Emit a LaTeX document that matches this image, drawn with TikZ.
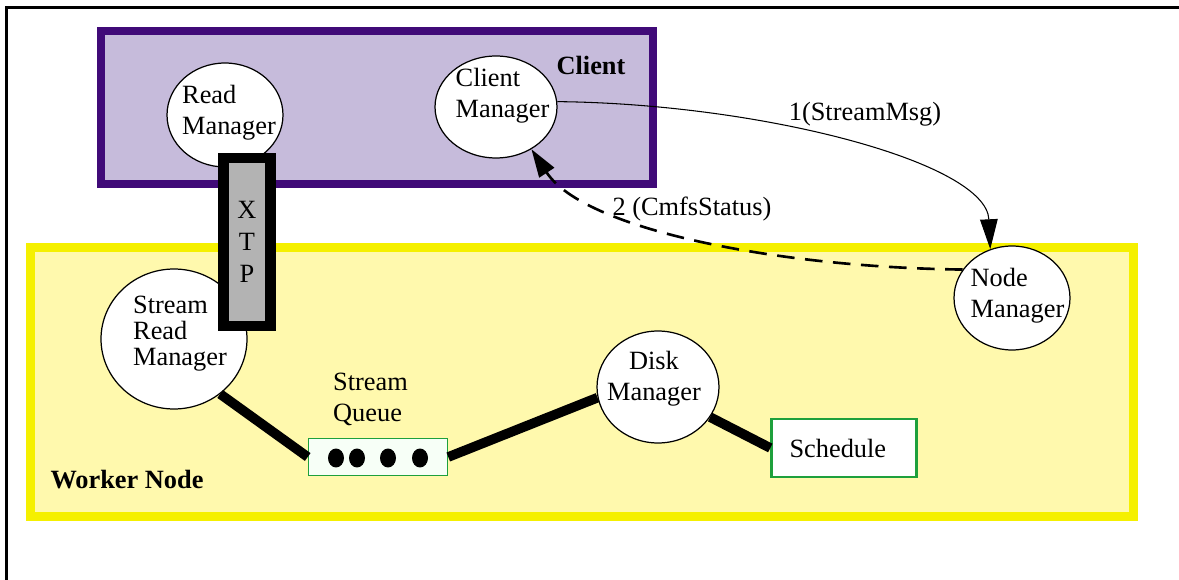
\documentclass[tikz,border=0pt]{standalone}
\usepackage{fontspec}
\setmainfont{Liberation Serif}
\usepackage{tikz}
\usetikzlibrary{shapes.geometric, arrows.meta, positioning}
\definecolor{clientedge}{HTML}{400A78}
\definecolor{clientfill}{HTML}{C6BBDB}
\definecolor{workeredge}{HTML}{F5F000}
\definecolor{workerfill}{HTML}{FFF9AD}
\definecolor{boxgreen}{HTML}{1EA03C}
\definecolor{xtpgray}{HTML}{B3B3B3}

\begin{document}
\fontsize{15}{17.6}\selectfont
\begin{tikzpicture}[x=0.02cm, y=-0.02cm,
  region/.style={rectangle, inner sep=0pt},
  mgr/.style={ellipse, draw, fill=white, line width=0.7pt, inner sep=0pt},
  txt/.style={align=left, inner sep=0pt},
  link/.style={line width=5.5pt},
  msg/.style={-{Triangle[length=17pt, width=10pt]}, line width=0.6pt},
  reply/.style={-{Triangle[length=16pt, width=10pt]}, line width=1.5pt,
                dash pattern=on 10pt off 6pt},
]
  \useasboundingbox (0,0) rectangle (1179,580);
  \clip (0,0) rectangle (1179,580);
  \fill[white] (0,0) rectangle (1179,580);
  \draw[line width=1.7pt] (6.5,8) rectangle (1200,600);

  % regions
  \node[region, draw=clientedge, fill=clientfill, line width=4.5pt,
        minimum width=11.04cm, minimum height=3.06cm] (client) at (377,107.5) {};
  \node[font=\bfseries] (clientlbl) at (591,65) {Client};
  \node[region, draw=workeredge, fill=workerfill, line width=5.1pt,
        minimum width=22.06cm, minimum height=5.38cm] (worker) at (582,382) {};
  \node[font=\bfseries] (workerlbl) at (127,480) {Worker Node};

  % managers
  \node[mgr, minimum width=2.32cm, minimum height=2.08cm,
        label={[txt, xshift=0.08cm, yshift=0.05cm]center:Read\\Manager}] (rm) at (225,115) {};
  \node[mgr, minimum width=2.44cm, minimum height=2.04cm,
        label={[txt, xshift=0.13cm, yshift=0.22cm]center:Client\\Manager}] (cm) at (496,107) {};
  \node[mgr, minimum width=2.92cm, minimum height=2.8cm,
        label={[txt, font=\fontsize{15}{15}\selectfont, xshift=0.12cm, yshift=0.11cm]center:Stream\\Read\\Manager}] (srm) at (174,339) {};
  \node[mgr, minimum width=2.44cm, minimum height=2.24cm,
        label={[txt, align=center, xshift=-0.08cm, yshift=0.16cm]center:Disk\\Manager}] (dm) at (658,387) {};
  \node[mgr, minimum width=2.32cm, minimum height=2.08cm,
        label={[txt, xshift=0.11cm, yshift=0.04cm]center:Node\\Manager}] (nm) at (1012,298) {};

  % queue and schedule
  \node[draw=boxgreen, fill=white!97!green, line width=0.9pt,
        minimum width=2.78cm, minimum height=0.74cm] (queue) at (378,457) {};
  \foreach \dx in {336,357,388,420}
    \fill (\dx,458) ellipse [x radius=0.16cm, y radius=0.19cm];
  \node[txt, above=0.23cm of queue, xshift=-0.15cm] (qlbl) {Stream\\Queue};
  \node[draw=boxgreen, fill=white, line width=1.4pt, align=left,
        inner xsep=0.36cm, text width=2.18cm, minimum height=1.16cm] (sched) at (844,448) {Schedule};

  \draw[link] (srm.-50) -- (queue.west);
  \draw[link] (queue.east) -- (dm.190);
  \draw[link] (dm.-30) -- (sched.west);

  % XTP channel
  \node[draw, fill=xtpgray, line width=6.2pt, minimum width=0.94cm, minimum height=3.36cm,
        align=center, font=\fontsize{15}{18.1}\selectfont] (xtp) at (247,242) {X\\T\\P};

  % messages
  \draw[msg] (cm.5) .. controls +(203,2) and +(-4,-87) .. (nm.114);
  \node (m1) at (865,114) {1(StreamMsg)};
  \draw[reply] (nm.150) .. controls +(-182,-2) and +(53,81) .. (cm.-50);
  \node (m2) at (692,209) {2 (CmfsStatus)};
\end{tikzpicture}
\end{document}
